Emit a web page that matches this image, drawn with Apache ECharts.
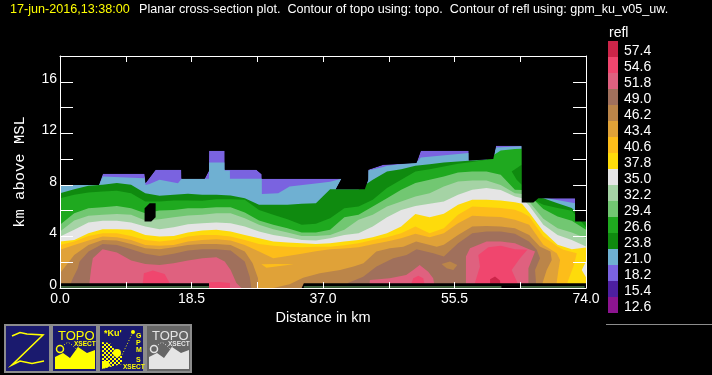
<!DOCTYPE html>
<html>
<head>
<meta charset="utf-8">
<style>
html, body { margin: 0; padding: 0; background: #000; }
#chart { width: 712px; height: 375px; }
</style>
<script src="https://cdn.jsdelivr.net/npm/echarts@6/dist/echarts.min.js"></script>
</head>
<body>
<div id="chart"></div>
<script>
// legend
const legendLevels = ['57.4','54.6','51.8','49.0','46.2','43.4','40.6','37.8','35.0','32.2','29.4','26.6','23.8','21.0','18.2','15.4','12.6'];
const legendColors = ['#cc2549','#f0466e','#df617f','#a0705c','#bb8549','#e0a238','#fdbd1a','#fedb0b','#e5e5e5','#a5d3a5','#72c772','#1fa91f','#0f8a0f','#6fb0d2','#7a63e0','#4d1fa0','#8c1490'];
const xLabels = ['0.0','18.5','37.0','55.5','74.0'];
const yLabels = [0, 4, 8, 12, 16];

// distance (km) shared by the smooth contours
const distKm = [0,2,4,6,8,10,12,14,16,18,20,22,24,26,28,30,32,34,36,38,40,42,44,46,48,50,52,54,56,58,60,62,64,65,66,68,70,72,74];

// outer edge of the echo, also the top of the 18.2 band
const top182X = [0,5.47,6.03,11.9,12.04,13.45,17.07,17.1,20.35,20.96,20.97,23.17,23.18,27.63,28.38,28.39,36.55,39.6,38.8,42.89,43.35,43.36,45.47,50.15,50.76,57.5,57.51,60.96,61.34,64.95,64.96,66.6,67.3,72.46,72.47,74];
const top182Y = [8,8,8.86,8.86,8.14,9.17,9.17,8.47,8.47,9.12,10.65,10.65,9.17,9.17,8.83,8.47,8.47,8.47,7.67,7.67,8.4,9.17,9.56,9.69,10.65,10.65,9.9,10,11.03,11.03,6.63,6.63,6.97,6.97,5.16,5.16];
const top210X = [0,5.47,6.03,11.9,12.04,12.6,14,16.6,17.1,20.96,20.97,23.17,23.18,23.9,23.91,28.39,28.4,30.7,32.3,36.55,38,39.6,38.8,42.89,43.35,43.36,45.47,46,50.15,50.76,57.5,57.51,60.96,61.34,64.95,64.96,66.6,67.3,68.5,72.46,72.47,74];
const top210Y = [8,8,8.66,8.52,8,8.06,8.4,8.13,8.47,8.47,9.74,9.74,9.12,9.12,8.47,8.47,7.3,7.35,7.87,8.14,8.24,8.47,7.67,7.67,8.4,9.12,9.38,9.48,9.74,10.13,10.47,9.9,10,10.9,11,6.63,6.63,6.97,6.97,6.58,5.16,5.16];

const top238 = [7.36,7.67,7.93,8.01,8.14,8.01,7.36,7.15,7.23,7.31,7.23,7.23,7.18,6.97,6.45,6.45,6.45,6.53,6.58,7.67,7.67,7.67,8.4,9.04,9.22,9.48,9.61,9.74,9.82,9.9,9.95,10.6,10.73,10.75,7.1,6.97,6.58,6.2,5.1];
const top266 = [6.97,7.23,7.41,7.49,7.54,7.36,6.71,6.71,6.79,6.79,6.76,6.89,6.89,6.84,6.06,5.68,5.34,4.9,4.98,5.42,6.19,6.32,6.84,7.75,8.4,9.04,9.22,9.43,9.64,9.77,9.95,10.67,10.78,10.8,7,6.45,6.2,5.99,4.72];
const top294 = [4.9,5.8,6.19,6.27,6.37,6.19,5.8,6.01,6.06,6.19,6.19,6.27,6.27,5.86,5.23,4.9,4.64,4.3,4.3,4.51,5.49,5.68,6.32,6.97,7.62,8.14,8.4,8.65,8.96,9.04,9.04,8.78,7.62,7.6,7.2,6.12,5.55,5.21,4.51];
const top322 = [4.38,5.23,5.6,5.68,5.75,5.68,5.23,5.34,5.49,5.62,5.68,5.8,5.8,5.42,4.9,4.56,4.3,4.04,4.04,4.12,4.51,5.29,5.68,6.32,6.71,7.1,7.36,7.88,8.27,8.34,8.34,8,7.36,7.3,6.7,5.37,4.64,4.3,3.86];
const top350 = [3.99,4.51,5.08,5.21,5.21,5.08,4.77,4.56,4.72,4.95,5.03,5.08,5.03,4.77,4.38,4.12,3.94,3.73,3.68,3.86,4.12,4.25,4.77,5.49,6.06,6.37,6.53,6.71,7.23,7.62,7.75,7.6,7.1,6.97,6.4,4.9,4.12,3.73,3.22];
const top378 = [3.6,3.73,4.25,4.56,4.56,4.51,4.12,3.99,4.04,4.3,4.46,4.51,4.38,4.12,3.86,3.6,3.53,3.47,3.42,3.47,3.6,3.73,3.94,4.25,4.77,5.75,5.49,5.76,6.45,6.84,6.84,6.79,6.66,6.53,5.86,4.38,3.35,3,3.15];

// from here on the bands close against the ground at their right end
const top406X = distKm.slice(0, 36).concat([70,70.82,72.7,72.23,71.38,71.38]);
const top406Y = [3.34,3.6,4.04,4.25,4.25,4.04,3.73,3.6,3.73,3.99,4.12,4.12,3.99,3.73,3.42,3.27,3.21,3.16,3.21,3.21,3.32,3.47,3.73,3.94,4.25,4.77,4.25,4.64,5.68,6.32,6.27,6.2,6.07,5.86,5.55,3.99,3.22,2.96,2.7,1.66,0.42,0];
const top434X = distKm.slice(0, 36).concat([69.88,70.35,70.12,69.88,69.88]);
const top434Y = [2.96,3.34,3.68,3.99,3.94,3.73,3.34,3.27,3.34,3.6,3.73,3.78,3.68,3.34,2.83,2.31,2.49,2.65,2.85,3.01,3.06,3.16,3.4,3.6,3.86,4.2,3.94,4.25,5.03,5.6,5.55,5.5,5.29,5.1,4.9,3.35,2.7,2.18,1.4,0.42,0];

const top462aX = [0,2,4,6,8,10,12,14,16,18,20,22,24,26,27.1,27.86,27.86];
const top462aY = [1.14,2.57,3.34,3.73,3.68,3.42,3.09,3.01,3.16,3.34,3.42,3.42,3.34,2.83,1.92,0.75,0];
const top462bX = [30,32.3,34.2,36.55,39.4,41.3,42.7,44.5,46.4,48.3,50.1,53,54,56,58,60,62,64,66,67.5,69,69.18,68.47,67.91,67.91];
const top462bY = [0,0.3,0.8,1.14,1.4,1.66,1.92,2.83,3.09,3.21,3.6,3.21,3.35,4.12,4.77,4.82,4.77,4.64,4.12,3.22,2.83,2.18,1.4,0.42,0];

const top490aX = [1.24,1.81,2.51,2.75,4.01,5.99,8,10.02,12,14.01,15.98,18,20.03,22,24.01,25.99,26.69,26.92];
const top490aY = [0,0.75,1.53,2.05,2.83,3.42,3.34,3.01,2.65,2.49,2.65,2.9,3.01,3.01,2.9,2.05,0.88,0];
const top490bX = [40.5,40.5,42.65,44.53,46.88,48.76,50.16,52.52,54,56,58,60,62,64,65.98,67.07,67.53,66.83,66.97,66.97];
const top490bY = [0,0.39,0.88,1.66,2.31,2.57,3.01,2.69,2.44,3.48,4.25,4.38,4.38,4.2,3.61,2.96,2.31,1.4,0.42,0];

const top518aX = [4.06,4.39,4.62,5.99,8,10.02,12,14.01,15.98,18,20.03,22,23.17,24.01,24.81,25.52];
const top518aY = [0,1.53,2.31,3.01,2.75,2.13,1.87,1.79,1.92,2.13,2.31,2.39,2.05,1.4,0.39,0];
const top518bX = [43.5,43.6,46.4,48.7,49.7,50.6,51.8,52.5,52.75];
const top518bY = [0,0.62,0.75,1.01,1.4,1.79,1.27,0.75,0];
const top518cX = [57.11,57.11,57.68,60.02,62,64.01,65.99,66.83,65.9,65.9];
const top518cY = [0,2.44,3.09,3.61,3.61,3.48,3.01,2.83,1.53,0];

const top546aX = [11.57,11.8,13.07,14.72,15.42,15.43];
const top546aY = [0,1.14,1.35,1.09,0.39,0];
const top546bX = [20.97,20.97,22.5,23.9,23.9];
const top546bY = [0,0.44,0.47,0.39,0];
const top546cX = [49.2,49.7,50.4,51.1,51.4];
const top546cY = [0,0.75,0.96,0.75,0];
const top546dX = [58.15,59.08,58.85,60.26,62,64.01,65.75,64.72,63.54,64.34,64.34];
const top546dY = [0,1.66,2.57,3.17,3.27,3.01,2.96,2.31,1.4,0.42,0];

const top574X = [60.5,60.5,61.2,61.9,62];
const top574Y = [0,0.68,0.89,0.58,0];

// small closed contours inside other bands
const lens238X = [64.95,63.55,64.25,64.95];
const lens238Y = [9.56,9.04,8.4,8.01];
const lens406X = [28.33,30.45,32.89,30.92,29.04];
const lens406Y = [1.84,1.87,1.84,1.71,1.58];
const lens462X = [53.68,54.86,55.89,55.33,54.39];
const lens462Y = [1.87,2.05,1.79,1.4,1.53];
const lens350X = [74,73.4,74];
const lens350Y = [2.05,1.4,0.83];

// data hole near 12 km
const holeX = [11.9,12.61,13.45,13.45,12.84,11.9];
const holeY = [6.19,6.58,6.58,5.49,5.15,5.15];

// topo fill and contour
const topoX = [0,20.96,20.97,34,34.3,74];
const topoY = [0.37,0.37,0,0,0.37,0.37];
const topoLineX = [0,20.96,null,34.3,62.1,null,64.7,73.8];
const topoLineY = [0.08,0.08,null,0.08,0.08,null,0.08,0.08];

const fontName = '"Liberation Sans", Arial, sans-serif';
const colorOf = level => legendColors[legendLevels.indexOf(level)];
const zip = (xs, ys) => xs.map((x, i) => [x, ys[i]]);

function band(level, xs, ys) {
    return {
        type: 'line',
        data: zip(xs, ys),
        showSymbol: false,
        symbol: 'none',
        silent: true,
        lineStyle: { width: 0 },
        areaStyle: { color: colorOf(level), opacity: 1 }
    };
}

function patch(color, xs, ys) {
    const pts = zip(xs, ys);
    return {
        type: 'custom',
        data: pts,
        silent: true,
        encode: { x: 0, y: 1 },
        clip: true,
        renderItem: function (params, api) {
            if (params.dataIndex !== 0) return null;
            return {
                type: 'polygon',
                shape: { points: pts.map(p => api.coord(p)) },
                style: { fill: color }
            };
        }
    };
}

const series = [
    band('18.2', top182X, top182Y),
    band('21.0', top210X, top210Y),
    band('23.8', distKm, top238),
    band('26.6', distKm, top266),
    patch(colorOf('23.8'), lens238X, lens238Y),
    band('29.4', distKm, top294),
    band('32.2', distKm, top322),
    band('35.0', distKm, top350),
    band('37.8', distKm, top378),
    patch(colorOf('35.0'), lens350X, lens350Y),
    band('40.6', top406X, top406Y),
    band('43.4', top434X, top434Y),
    patch(colorOf('40.6'), lens406X, lens406Y),
    band('46.2', top462aX, top462aY),
    band('46.2', top462bX, top462bY),
    band('49.0', top490aX, top490aY),
    band('49.0', top490bX, top490bY),
    patch(colorOf('46.2'), lens462X, lens462Y),
    band('51.8', top518aX, top518aY),
    band('51.8', top518bX, top518bY),
    band('51.8', top518cX, top518cY),
    band('54.6', top546aX, top546aY),
    band('54.6', top546bX, top546bY),
    band('54.6', top546cX, top546cY),
    band('54.6', top546dX, top546dY),
    band('57.4', top574X, top574Y),
    // nothing above the outer edge
    patch('#000', top182X.concat([74, 0]), top182Y.concat([12.5, 12.5])),
    patch('#000', holeX, holeY),
    {
        type: 'line',
        data: zip(topoX, topoY),
        symbol: 'none',
        silent: true,
        lineStyle: { width: 0 },
        areaStyle: { color: '#000', opacity: 1 }
    },
    {
        type: 'line',
        data: zip(topoLineX, topoLineY),
        symbol: 'none',
        silent: true,
        lineStyle: { width: 1, color: '#7fc97f' }
    },
    {
        type: 'bar',
        xAxisIndex: 2,
        yAxisIndex: 2,
        data: legendColors.map(c => ({ value: 1, itemStyle: { color: c } })),
        barWidth: '100%',
        silent: true
    }
];
// paint in list order, lowest reflectivity first
series.forEach((s, i) => { s.z = i + 2; });

// the four buttons along the bottom
function buttonFrame(x, fill) {
    return { type: 'rect', shape: { x: x, y: 325, width: 45, height: 47 }, style: { fill: fill, stroke: '#8c8c8c', lineWidth: 2 } };
}
function txt(x, y, text, size, color, weight) {
    return { type: 'text', x: x, y: y, style: { text: text, fontSize: size, fontFamily: fontName, fontWeight: weight || 'normal', fill: color } };
}
function topoButton(x, bg, color) {
    const off = x - 52;
    return [
        buttonFrame(x, bg),
        txt(58 + off, 330, 'TOPO', 13, color),
        txt(74 + off, 341, 'XSECT', 6.5, color, 'bold'),
        { type: 'polygon', shape: { points: [[55,369],[55,357],[63,353],[70,358],[78,347],[87,353],[95,350],[95,369]].map(p => [p[0] + off, p[1]]) }, style: { fill: color } },
        { type: 'circle', shape: { cx: 60 + off, cy: 349, r: 3.5 }, style: { fill: 'none', stroke: color, lineWidth: 1.5 } },
        { type: 'polyline', shape: { points: [[64,345],[68,342],[72,345],[76,349],[79,346]].map(p => [p[0] + off, p[1]]) }, style: { stroke: color, fill: 'none', lineWidth: 1, lineDash: [1, 2] } }
    ];
}
const checker = document.createElement('canvas');
checker.width = 4;
checker.height = 4;
(function () {
    const c = checker.getContext('2d');
    c.fillStyle = '#1a1a6e'; c.fillRect(0, 0, 4, 4);
    c.fillStyle = '#ffff00'; c.fillRect(0, 0, 2, 2); c.fillRect(2, 2, 2, 2);
})();
const buttons = [
    buttonFrame(5, '#1a1a6e'),
    { type: 'polyline', shape: { points: [[12,336],[20,332.5],[27,334],[43,335],[12,365],[20,361],[32,363.5],[44,361]] }, style: { stroke: '#ffff00', fill: 'none', lineWidth: 1.6 } },
    ...topoButton(52, '#1a1a6e', '#ffff00'),
    buttonFrame(99, '#1a1a6e'),
    txt(104, 329, '*Ku\'', 9, '#ffff00', 'bold'),
    { type: 'polygon', shape: { points: [[102,342],[110,343],[115,350],[122,355],[122,364],[102,369]] }, style: { fill: { image: checker, repeat: 'repeat' } } },
    { type: 'circle', shape: { cx: 117, cy: 353, r: 4 }, style: { fill: '#ffff00' } },
    { type: 'polygon', shape: { points: [[102,361],[108,361],[111,366],[102,369]] }, style: { fill: '#ffff00' } },
    { type: 'polyline', shape: { points: [[133,332],[122,355]] }, style: { stroke: '#ffff00', fill: 'none', lineWidth: 1, lineDash: [1, 2] } },
    { type: 'circle', shape: { cx: 133, cy: 332, r: 2 }, style: { fill: '#ffff00' } },
    txt(136, 333, 'G', 7, '#ffff00', 'bold'),
    txt(136, 340, 'P', 7, '#ffff00', 'bold'),
    txt(136, 347, 'M', 7, '#ffff00', 'bold'),
    txt(136, 357, 'S', 7, '#ffff00', 'bold'),
    txt(123, 364, 'XSECT', 6.5, '#ffff00', 'bold'),
    ...topoButton(146, '#666666', '#e5e5e5'),
    { type: 'line', shape: { x1: 606, y1: 324.5, x2: 712, y2: 324.5 }, style: { stroke: '#8c8c8c', lineWidth: 1 } }
];

const titleStyle = { fontSize: 12.6, fontWeight: 'normal', fontFamily: fontName };
const whiteLine = { show: true, onZero: false, lineStyle: { color: '#fff', width: 1 } };

const option = {
    backgroundColor: '#000',
    animation: false,
    title: [
        { text: '17-jun-2016,13:38:00', left: 10, top: 3, padding: 0, textStyle: Object.assign({ color: '#ffff00' }, titleStyle) },
        { text: 'Planar cross-section plot.  Contour of topo using: topo.  Contour of refl using: gpm_ku_v05_uw.', left: 139, top: 3, padding: 0, textStyle: Object.assign({ color: '#fff' }, titleStyle) },
        { text: 'refl', left: 609, top: 26, padding: 0, textStyle: Object.assign({ color: '#fff' }, titleStyle, { fontSize: 14 }) }
    ],
    grid: [
        { left: 60, right: 126, top: 56, bottom: 87 },
        { left: 608, width: 10, top: 41, height: 272 }
    ],
    xAxis: [
        {
            type: 'value', gridIndex: 0, min: 0, max: 74, interval: 9.25, z: 100,
            name: 'Distance in km', nameLocation: 'middle', nameGap: 20,
            nameTextStyle: { color: '#fff', fontSize: 14.5, fontFamily: fontName },
            axisLine: whiteLine,
            axisTick: { show: true, inside: true, length: 6, lineStyle: { color: '#fff', width: 1 } },
            axisLabel: {
                color: '#fff', fontSize: 14, fontFamily: fontName, margin: 4, hideOverlap: false, showMinLabel: true, showMaxLabel: true,
                formatter: v => xLabels.includes(v.toFixed(1)) ? v.toFixed(1) : ''
            },
            splitLine: { show: false }
        },
        {
            type: 'value', gridIndex: 0, position: 'top', min: 0, max: 74, interval: 9.25, z: 100,
            axisLine: whiteLine,
            axisTick: { show: true, inside: true, length: 6, lineStyle: { color: '#fff', width: 1 } },
            axisLabel: { show: false },
            splitLine: { show: false }
        },
        { type: 'value', gridIndex: 1, min: 0, max: 1, show: false }
    ],
    yAxis: [
        {
            type: 'value', gridIndex: 0, min: 0, max: 18, interval: 2, z: 100,
            name: 'km above MSL', nameLocation: 'middle', nameGap: 32,
            nameTextStyle: { color: '#fff', fontSize: 15.5, fontFamily: '"Liberation Mono", monospace' },
            axisLine: whiteLine,
            axisTick: { show: true, inside: true, length: 13, lineStyle: { color: '#fff' } },
            axisLabel: {
                color: '#fff', fontSize: 14, fontFamily: fontName, margin: 3, verticalAlign: 'bottom', lineHeight: 6,
                formatter: v => yLabels.includes(v) ? String(v) : ''
            },
            splitLine: { show: false }
        },
        {
            type: 'value', gridIndex: 0, position: 'right', min: 0, max: 18, interval: 2, z: 100,
            axisLine: whiteLine,
            axisTick: { show: true, inside: true, length: 13, lineStyle: { color: '#fff' } },
            axisLabel: { show: false },
            splitLine: { show: false }
        },
        {
            type: 'category', gridIndex: 1, position: 'right', inverse: true, data: legendLevels,
            axisLine: { show: false }, axisTick: { show: false },
            axisLabel: { color: '#fff', fontSize: 14, fontFamily: fontName, margin: 6, interval: 0, verticalAlign: 'top', lineHeight: 4 }
        }
    ],
    graphic: buttons,
    series: series
};

const myChart = echarts.init(document.getElementById('chart'), null, { renderer: 'canvas' });
myChart.setOption(option);
</script>
</body>
</html>
